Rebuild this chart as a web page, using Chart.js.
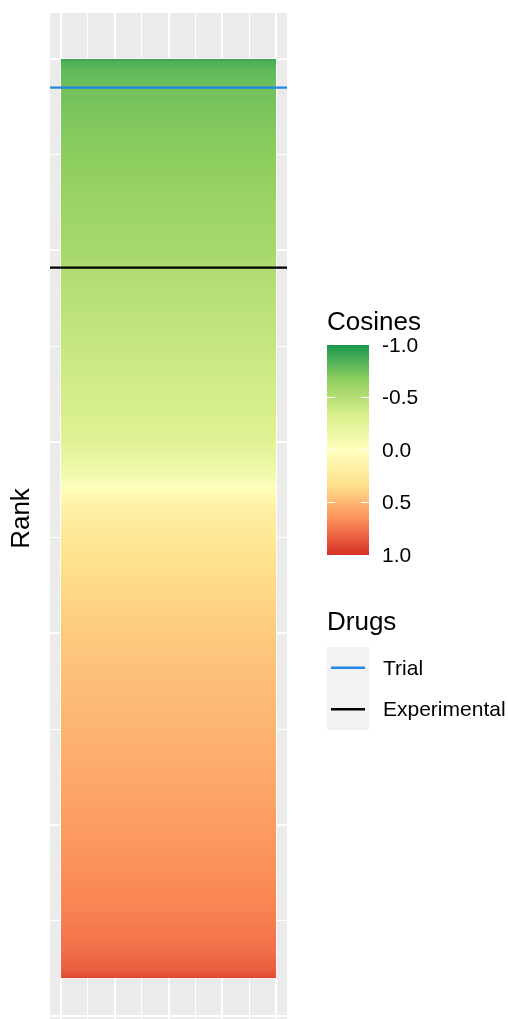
<!DOCTYPE html>
<html>
<head>
<meta charset="utf-8">
<title>Rank</title>
<script src="https://cdn.jsdelivr.net/npm/chart.js@4.4.1/dist/chart.umd.min.js"></script>
<style>
  html, body { margin: 0; padding: 0; background: #fff; overflow: hidden; }
  #wrap { position: relative; width: 508px; height: 1030px; }
</style>
</head>
<body>
<div id="wrap"><canvas id="chart-rank"></canvas></div>
<script>
// ============================================================
// DATA — drugs ranked by cosine
// RANK_STOPS: rank positions
// COSINE_STOPS: cosine read from the colour at that rank
// ============================================================
const RANK_STOPS   = [0,     15,    60,    150,   300,   500,   750,   1000,  1090,  1500,  2000,  2170,  2240,  2320, 2460, 2620, 3040, 3610, 4030, 4400, 4650, 4760, 4800];
const COSINE_STOPS = [-0.92, -0.86, -0.80, -0.76, -0.72, -0.68, -0.62, -0.57, -0.53, -0.42, -0.27, -0.12, -0.01, 0.14, 0.24, 0.32, 0.43, 0.53, 0.61, 0.69, 0.77, 0.84, 0.92];
const N_DRUGS      = 4800;

const TRIAL_RANK        = 150;
const EXPERIMENTAL_RANK = 1090;

const RANK_BREAKS   = [0, 500, 1000, 1500, 2000, 2500, 3000, 3500, 4000, 4500, 5000];
const X_BREAKS      = [0, 0.125, 0.25, 0.375, 0.5, 0.625, 0.75, 0.875, 1];
const COSINE_BREAKS = [-1, -0.5, 0, 0.5, 1];
const COSINE_LABELS = ['-1.0', '-0.5', '0.0', '0.5', '1.0'];
const DRUG_LABELS   = ['Trial', 'Experimental'];

// ============================================================
// STYLE
// ============================================================
const FONT       = '"Liberation Sans", Arial, sans-serif';
const PALETTE    = ['#1a9850', '#91cf60', '#d9ef8b', '#ffffbf', '#fee08b', '#fc8d59', '#d73027']; // RdYlGn, -1 -> 1
const DRUG_COLORS = ['#2188e6', '#000000'];
const X_MIN = -0.05, X_MAX = 1.05;
const Y_MIN = -0.05 * N_DRUGS, Y_MAX = 1.05 * N_DRUGS;

// ============================================================
// COLOUR SCALE
// ============================================================
function hexToRgb(h) {
  const n = parseInt(h.slice(1), 16);
  return [(n >> 16) & 255, (n >> 8) & 255, n & 255];
}
const PAL_RGB = PALETTE.map(hexToRgb);

function colorFor(v) {
  const t = Math.min(1, Math.max(0, (v + 1) / 2)) * (PAL_RGB.length - 1);
  const i = Math.min(PAL_RGB.length - 2, Math.floor(t));
  const f = t - i;
  const a = PAL_RGB[i], b = PAL_RGB[i + 1];
  const c = a.map((x, k) => Math.round(x + (b[k] - x) * f));
  return `rgb(${c[0]},${c[1]},${c[2]})`;
}

// gradient of the rank bar, placed with the y scale
function barGradient(context) {
  const chart = context.chart;
  const y = chart.scales.y;
  if (!chart.chartArea || !y) return 'rgba(0,0,0,0)';
  const g = chart.ctx.createLinearGradient(0, y.getPixelForValue(0), 0, y.getPixelForValue(N_DRUGS));
  RANK_STOPS.forEach((r, i) => g.addColorStop(r / N_DRUGS, colorFor(COSINE_STOPS[i])));
  return g;
}

// ============================================================
// PLUGINS — grey panel + legends (colourbar and lines)
// ============================================================
const panelBg = {
  id: 'panelBg',
  beforeDraw(chart) {
    const { ctx, chartArea: a } = chart;
    ctx.save();
    ctx.fillStyle = '#ebebeb';
    ctx.fillRect(a.left, a.top, a.right - a.left, a.bottom - a.top);
    ctx.restore();
  }
};

const legends = {
  id: 'legends',
  afterDraw(chart) {
    const ctx = chart.ctx;
    ctx.save();
    ctx.fillStyle = '#000';

    // --- Cosines colourbar
    const bx = 327, bw = 42, by = 345, bh = 210;
    ctx.font = `26px ${FONT}`;
    ctx.textBaseline = 'alphabetic';
    ctx.fillText('Cosines', bx, 330);

    const g = ctx.createLinearGradient(0, by, 0, by + bh);
    PALETTE.forEach((c, i) => g.addColorStop(i / (PALETTE.length - 1), c));
    ctx.fillStyle = g;
    ctx.fillRect(bx, by, bw, bh);

    ctx.strokeStyle = '#fff';
    ctx.lineWidth = 1.2;
    ctx.font = `21px ${FONT}`;
    ctx.textBaseline = 'middle';
    ctx.fillStyle = '#000';
    COSINE_BREAKS.forEach((b, i) => {
      const ty = by + (b + 1) / 2 * bh;
      if (i > 0 && i < COSINE_BREAKS.length - 1) {
        ctx.beginPath();
        ctx.moveTo(bx, ty); ctx.lineTo(bx + 8, ty);
        ctx.moveTo(bx + bw - 8, ty); ctx.lineTo(bx + bw, ty);
        ctx.stroke();
      }
      ctx.fillText(COSINE_LABELS[i], 382, ty + 1);
    });

    // --- Drugs
    ctx.font = `26px ${FONT}`;
    ctx.textBaseline = 'alphabetic';
    ctx.fillText('Drugs', bx, 630);

    const ky = 647, kh = 41.5;
    ctx.fillStyle = '#f2f2f2';
    ctx.fillRect(bx, ky, bw, kh * DRUG_LABELS.length);

    ctx.font = `21px ${FONT}`;
    ctx.textBaseline = 'middle';
    DRUG_LABELS.forEach((lab, i) => {
      const cy = ky + kh * i + kh / 2;
      ctx.strokeStyle = DRUG_COLORS[i];
      ctx.lineWidth = 2.3;
      ctx.beginPath();
      ctx.moveTo(bx + 4, cy); ctx.lineTo(bx + bw - 4, cy);
      ctx.stroke();
      ctx.fillStyle = '#000';
      ctx.fillText(lab, 383, cy + 1);
    });
    ctx.restore();
  }
};

// ============================================================
// CHART
// ============================================================
function hLine(rank, i) {
  return {
    type: 'line',
    label: DRUG_LABELS[i],
    data: [{ x: X_MIN, y: rank }, { x: X_MAX, y: rank }],
    borderColor: DRUG_COLORS[i],
    borderWidth: 2.3,
    pointRadius: 0,
    fill: false,
  };
}

new Chart(document.getElementById('chart-rank'), {
  type: 'line',
  data: {
    datasets: [
      hLine(TRIAL_RANK, 0),
      hLine(EXPERIMENTAL_RANK, 1),
      {
        label: 'Cosines',
        data: [{ x: 0, y: 0 }, { x: 1, y: 0 }],
        fill: { value: N_DRUGS },
        backgroundColor: barGradient,
        borderColor: 'rgba(0,0,0,0)',
        borderWidth: 0,
        pointRadius: 0,
      }
    ]
  },
  options: {
    responsive: true,
    maintainAspectRatio: false,
    animation: false,
    layout: { padding: { left: 0, right: 221, top: 13, bottom: 6 } },
    plugins: {
      legend: { display: false },
      tooltip: { enabled: false }
    },
    scales: {
      x: {
        type: 'linear',
        min: X_MIN,
        max: X_MAX,
        afterBuildTicks: axis => { axis.ticks = X_BREAKS.map(value => ({ value })); },
        ticks: { display: false },
        border: { display: false },
        grid: { color: '#fff', lineWidth: c => (c.index % 2 === 0 ? 2 : 1), drawTicks: false }
      },
      y: {
        type: 'linear',
        reverse: true,
        min: Y_MIN,
        max: Y_MAX,
        afterBuildTicks: axis => { axis.ticks = RANK_BREAKS.map(value => ({ value })); },
        ticks: { display: false },
        border: { display: false },
        grid: { color: '#fff', lineWidth: c => (c.index % 2 === 0 ? 2 : 1), drawTicks: false },
        title: {
          display: true,
          text: 'Rank',
          color: '#000',
          font: { family: FONT, size: 26, lineHeight: 1.2 },
          padding: { top: 6.4, bottom: 12.4 }
        }
      }
    }
  },
  plugins: [panelBg, legends]
});
</script>
</body>
</html>
